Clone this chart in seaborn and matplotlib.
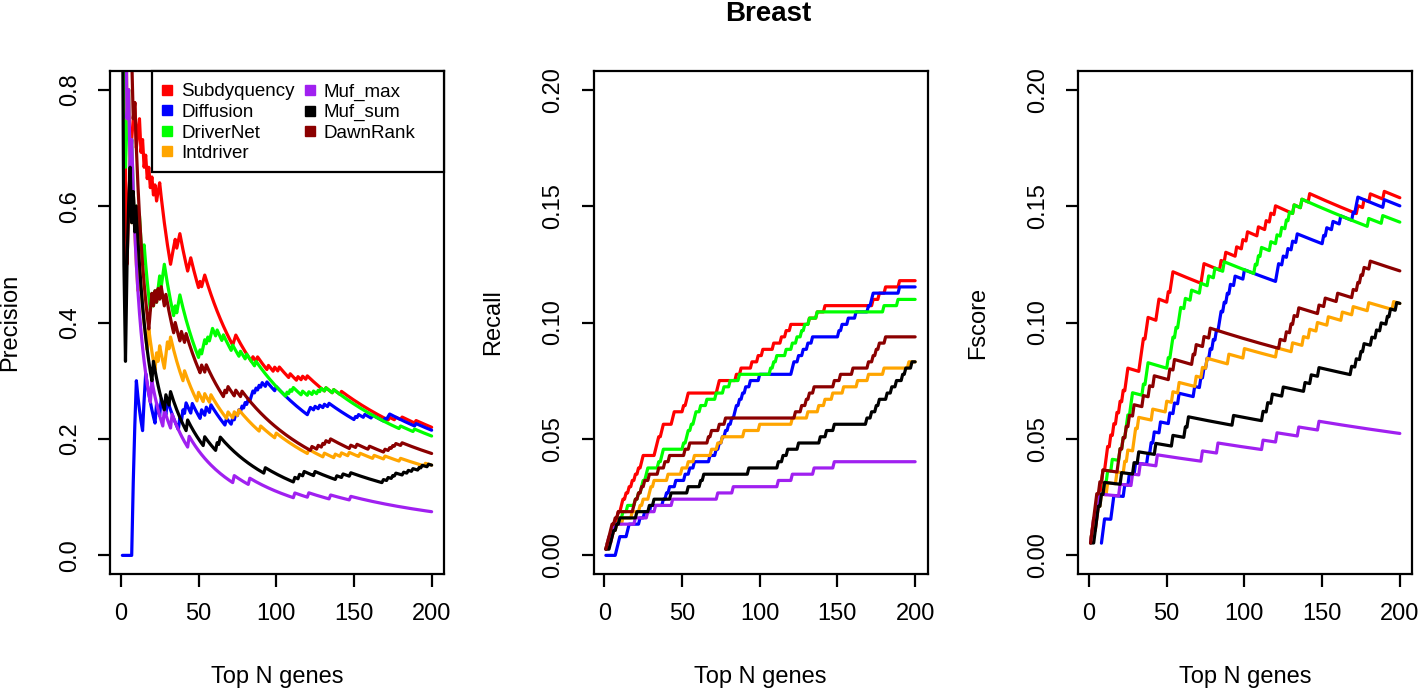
import numpy as np
import pandas as pd
import matplotlib
matplotlib.use("Agg")
import matplotlib.pyplot as plt
from matplotlib.lines import Line2D
from matplotlib.patches import Rectangle
import seaborn as sns

methods = ["Subdyquency", "Diffusion", "DriverNet", "Intdriver", "Muf_max", "Muf_sum", "DawnRank"]
colors = ["#FF0000", "#0000FF", "#00FF00", "#FFA500", "#A020F0", "#000000", "#8B0000"]

# rank (Top N) at which each known driver gene shows up in a method's list
subdyquency_hits = [1, 2, 5, 6, 7, 8, 9, 11, 12, 14, 16, 18, 20, 22, 24, 25, 33, 34, 35, 37, 38,
                    44, 45, 51, 53, 54, 73, 74, 85, 88, 95, 99, 102, 109, 114, 117, 120,
                    132, 137, 142, 173, 177, 181, 190]
diffusion_hits = [8, 9, 10, 15, 16, 23, 26, 30, 38, 40, 42, 46, 52, 55, 58, 68, 72, 74, 76, 78,
                  80, 82, 84, 85, 87, 89, 91, 94, 100, 121, 122, 125, 128, 131, 134, 151, 153,
                  157, 162, 170, 172, 173, 190]
drivernet_hits = [1, 2, 4, 5, 7, 10, 12, 15, 20, 22, 24, 25, 27, 28, 35, 37, 38, 51, 53, 54, 56,
                  58, 59, 62, 66, 72, 77, 81, 87, 107, 109, 111, 117, 121, 124, 127, 129, 132,
                  137, 180, 189]
intdriver_hits = [1, 2, 3, 5, 8, 12, 18, 23, 25, 29, 30, 32, 41, 50, 54, 58, 69, 73, 76, 90, 100,
                  121, 131, 138, 142, 147, 154, 163, 170, 180, 196]
muf_max_hits = [1, 2, 3, 5, 7, 20, 28, 33, 44, 73, 83, 112, 121, 135, 148]
muf_sum_hits = [1, 4, 5, 6, 8, 10, 21, 29, 32, 43, 54, 62, 64, 93, 112, 115, 118, 125, 139, 143,
                148, 169, 172, 175, 177, 182, 185, 188, 192, 194, 198]
dawnrank_hits = [1, 2, 3, 4, 5, 7, 9, 19, 20, 22, 24, 26, 29, 35, 39, 42, 52, 55, 67, 69, 74, 78,
                 123, 127, 130, 132, 135, 148, 152, 160, 170, 173, 175, 177, 181]

hit_lists = [subdyquency_hits, diffusion_hits, drivernet_hits, intdriver_hits,
             muf_max_hits, muf_sum_hits, dawnrank_hits]
n_known = 373          # known breast cancer drivers in the reference set
top_n = np.arange(1, 201)

frames = []
for name, hits in zip(methods, hit_lists):
    found = np.searchsorted(np.sort(hits), top_n, side="right")
    prec = found / top_n
    rec = found / n_known
    with np.errstate(invalid="ignore", divide="ignore"):
        fs = 2 * prec * rec / (prec + rec)
    frames.append(pd.DataFrame({"N": top_n, "method": name, "Precision": prec,
                                "Recall": rec, "Fscore": fs}))
df = pd.concat(frames, ignore_index=True)

sns.set_style("ticks")
plt.rcParams["font.family"] = ["Liberation Sans", "DejaVu Sans"]
plt.rcParams.update({"text.color": "black", "axes.labelcolor": "black",
                     "xtick.color": "black", "ytick.color": "black"})

fig = plt.figure(figsize=(14.18, 6.9), dpi=100)
lefts = [110, 593.5, 1078.2]
panels = [("Precision", 0.8, [0, 0.2, 0.4, 0.6, 0.8], "{:.1f}"),
          ("Recall", 0.2, [0, 0.05, 0.1, 0.15, 0.2], "{:.2f}"),
          ("Fscore", 0.2, [0, 0.05, 0.1, 0.15, 0.2], "{:.2f}")]

for left, (metric, ymax, yticks, fmt) in zip(lefts, panels):
    ax = fig.add_axes([left / 1418, 116 / 690, 334 / 1418, 503 / 690])
    sns.lineplot(data=df, x="N", y=metric, hue="method", hue_order=methods, palette=colors,
                 estimator=None, sort=False, lw=2.3, legend=False, ax=ax)
    ax.set_xlim(1 - 0.04 * 199, 200 + 0.04 * 199)
    ax.set_ylim(-0.04 * ymax, 1.04 * ymax)
    ax.set_xticks([0, 50, 100, 150, 200])
    ax.set_yticks(yticks)
    ax.set_yticklabels([fmt.format(v) for v in yticks])
    for sp in ax.spines.values():
        sp.set_visible(True)
        sp.set_linewidth(1.6)
        sp.set_color("black")
    ax.tick_params(direction="out", length=9, width=1.6, labelsize=17, pad=12,
                   color="black", labelcolor="black")
    ax.tick_params(axis="y", labelrotation=90)
    for lab in ax.get_yticklabels():
        lab.set_va("center")
    ax.set_xlabel("Top N genes", fontsize=17)
    ax.set_ylabel(metric, fontsize=17)
    ax.xaxis.set_label_coords(0.5, -0.205)
    ax.yaxis.set_label_coords(-0.30, 0.5)
    ax.xaxis.label.set_va("center")
    ax.yaxis.label.set_va("center")

    if metric == "Precision":
        # R-style legend box: wider than its entries, flush with the top-right corner
        box_x0 = (152 - 110) / 334
        box_y0 = (574 - 172) / 503
        ax.add_patch(Rectangle((box_x0, box_y0), 1 - box_x0, 1 - box_y0,
                               transform=ax.transAxes, facecolor="white",
                               edgecolor="black", lw=1.6, zorder=4, clip_on=False))
        handles = [Line2D([], [], ls="none", marker="s", ms=7, color=c) for c in colors]
        leg = ax.legend(handles, methods, ncol=2, loc="upper left",
                        bbox_to_anchor=((149 - 110) / 334, 1.0), fontsize=13.5, frameon=False,
                        borderaxespad=0, handlelength=0.6, handletextpad=0.45,
                        columnspacing=0.5, labelspacing=0.18, borderpad=0.66)
        leg.set_zorder(5)

fig.text(768 / 1418, 1 - 14 / 690, "Breast", fontsize=20, fontweight="bold",
         ha="center", va="center")

fig.savefig("out.png", dpi=100)
